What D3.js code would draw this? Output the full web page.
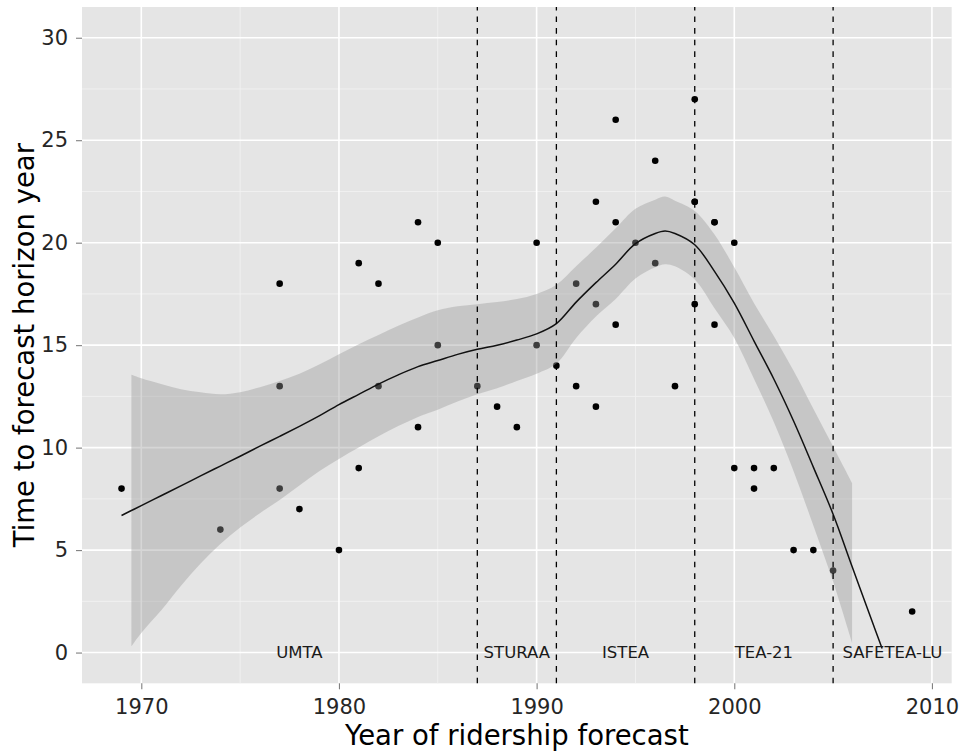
<!DOCTYPE html>
<html>
<head>
<meta charset="utf-8">
<script src="https://cdn.jsdelivr.net/npm/d3@7"></script>
<style>
  html, body { margin: 0; padding: 0; background: #ffffff; }
  svg { display: block; font-family: "DejaVu Sans", sans-serif; }
</style>
</head>
<body>
<svg id="chart" width="960" height="753"></svg>
<script>
// Forecast year and years until the forecast horizon, one entry per forecast
const forecastYear = [
  1969, 1974, 1977, 1977, 1977, 1978, 1980, 1981, 1981, 1982, 1982,
  1984, 1984, 1985, 1985, 1987, 1988, 1989, 1990, 1990, 1991, 1992,
  1992, 1993, 1993, 1993, 1994, 1994, 1994, 1995, 1996, 1996, 1997,
  1998, 1998, 1998, 1998, 1999, 1999, 1999, 2000, 2000, 2001, 2001,
  2002, 2003, 2004, 2005, 2009
];
const horizonYears = [
  8, 6, 18, 13, 8, 7, 5, 19, 9, 18, 13,
  21, 11, 20, 15, 13, 12, 11, 20, 15, 14, 18,
  13, 22, 17, 12, 26, 21, 16, 20, 24, 19, 13,
  27, 22, 22, 17, 21, 21, 16, 20, 9, 9, 8,
  9, 5, 5, 4, 2
];

// Loess trend with its confidence band (null where the band leaves the axis range)
const smoothYear = [
  1969, 1969.5, 1970, 1971, 1972, 1973, 1974, 1975, 1976, 1977, 1978,
  1979, 1980, 1981, 1982, 1983, 1984, 1985, 1986, 1987, 1988, 1989,
  1990, 1991, 1992, 1993, 1994, 1995, 1996, 1996.5, 1997, 1998, 1999,
  2000, 2001, 2002, 2003, 2004, 2005, 2005.96, 2007, 2007.48
];
const smoothFit = [
  6.69, 6.93, 7.17, 7.65, 8.13, 8.62, 9.10, 9.58, 10.07, 10.55, 11.04,
  11.55, 12.10, 12.60, 13.10, 13.55, 13.95, 14.25, 14.55, 14.80, 15.00, 15.25,
  15.55, 16.05, 17.10, 18.05, 18.95, 19.95, 20.45, 20.57, 20.45, 19.90, 18.60,
  17.05, 15.20, 13.35, 11.30, 9.05, 6.75, 4.20, 1.45, 0.20
];
const smoothLow = [
  null, 0.31, 0.96, 2.05, 3.25, 4.35, 5.30, 6.10, 6.80, 7.45, 8.15,
  8.85, 9.45, 10.00, 10.55, 11.05, 11.50, 11.85, 12.25, 12.60, 12.90, 13.25,
  13.60, 14.10, 15.35, 16.40, 17.25, 18.25, 18.80, 18.95, 18.85, 18.20, 16.80,
  15.35, 13.35, 11.25, 8.85, 6.20, 3.45, 0.47, null, null
];
const smoothHigh = [
  null, 13.55, 13.38, 13.10, 12.85, 12.70, 12.60, 12.70, 12.95, 13.25, 13.60,
  14.05, 14.55, 15.05, 15.50, 15.95, 16.35, 16.70, 16.90, 17.00, 17.10, 17.25,
  17.50, 17.95, 18.85, 19.75, 20.70, 21.65, 22.10, 22.25, 22.05, 21.55, 20.40,
  18.80, 17.05, 15.45, 13.75, 11.90, 10.05, 8.27, null, null
];

// Transportation acts: start years of each period and the label positions
const actBreaks = [1987, 1991, 1998, 2005];
const actNames = ["UMTA", "STURAA", "ISTEA", "TEA-21", "SAFETEA-LU"];
const actLabelYear = [1978, 1989, 1994.5, 2001.5, 2008];

const xTicks = [1970, 1980, 1990, 2000, 2010];
const xMinor = [1975, 1985, 1995, 2005];
const yTicks = [0, 5, 10, 15, 20, 25, 30];
const yMinor = [2.5, 7.5, 12.5, 17.5, 22.5, 27.5];

const xTitle = "Year of ridership forecast";
const yTitle = "Time to forecast horizon year";

// ---- layout ----
const panel = { left: 82, right: 951.7, top: 7, bottom: 683.3 };
const svg = d3.select("#chart");

const x = d3.scaleLinear().domain([1967, 2011]).range([panel.left, panel.right]);
const y = d3.scaleLinear().domain([-1.5, 31.5]).range([panel.bottom, panel.top]);

// panel background
svg.append("rect")
  .attr("x", panel.left).attr("y", panel.top)
  .attr("width", panel.right - panel.left)
  .attr("height", panel.bottom - panel.top)
  .attr("fill", "#E5E5E5");

const grid = svg.append("g");
// minor grid
grid.selectAll(".vminor").data(xMinor).join("line")
  .attr("x1", d => x(d)).attr("x2", d => x(d))
  .attr("y1", panel.top).attr("y2", panel.bottom)
  .attr("stroke", "#F2F2F2").attr("stroke-width", 0.9);
grid.selectAll(".hminor").data(yMinor).join("line")
  .attr("y1", d => y(d)).attr("y2", d => y(d))
  .attr("x1", panel.left).attr("x2", panel.right)
  .attr("stroke", "#F2F2F2").attr("stroke-width", 0.9);
// major grid
grid.selectAll(".vmajor").data(xTicks).join("line")
  .attr("x1", d => x(d)).attr("x2", d => x(d))
  .attr("y1", panel.top).attr("y2", panel.bottom)
  .attr("stroke", "#FFFFFF").attr("stroke-width", 1.6);
grid.selectAll(".hmajor").data(yTicks).join("line")
  .attr("y1", d => y(d)).attr("y2", d => y(d))
  .attr("x1", panel.left).attr("x2", panel.right)
  .attr("stroke", "#FFFFFF").attr("stroke-width", 1.6);

// points
const points = forecastYear.map((yr, i) => ({ yr, h: horizonYears[i] }));
svg.append("g").selectAll("circle").data(points).join("circle")
  .attr("cx", d => x(d.yr))
  .attr("cy", d => y(d.h))
  .attr("r", 3.3)
  .attr("fill", "#000000");

// smooth band and trend line
const smooth = smoothYear.map((yr, i) => ({
  yr, fit: smoothFit[i], lo: smoothLow[i], hi: smoothHigh[i]
}));

const band = d3.area()
  .defined(d => d.lo !== null && d.hi !== null)
  .x(d => x(d.yr))
  .y0(d => y(d.lo))
  .y1(d => y(d.hi))
  .curve(d3.curveCatmullRom.alpha(0.5));

svg.append("path")
  .datum(smooth)
  .attr("d", band)
  .attr("fill", "#999999")
  .attr("fill-opacity", 0.4);

const trend = d3.line()
  .x(d => x(d.yr))
  .y(d => y(d.fit))
  .curve(d3.curveCatmullRom.alpha(0.5));

svg.append("path")
  .datum(smooth)
  .attr("d", trend)
  .attr("fill", "none")
  .attr("stroke", "#111111")
  .attr("stroke-width", 1.5);

// period boundaries
svg.append("g").selectAll("line").data(actBreaks).join("line")
  .attr("x1", d => x(d)).attr("x2", d => x(d))
  .attr("y1", panel.bottom).attr("y2", panel.top)
  .attr("stroke", "#000000")
  .attr("stroke-width", 1.3)
  .attr("stroke-dasharray", "5.6,6");

// period labels
svg.append("g").selectAll("text").data(actNames).join("text")
  .attr("x", (d, i) => x(actLabelYear[i]))
  .attr("y", y(0))
  .attr("dy", "0.36em")
  .attr("text-anchor", "middle")
  .attr("font-size", 16.5)
  .attr("fill", "#1a1a1a")
  .text(d => d);

// axes
const xAxis = svg.append("g")
  .attr("transform", `translate(0,${panel.bottom})`)
  .call(d3.axisBottom(x).tickValues(xTicks).tickFormat(d3.format("d"))
    .tickSize(6).tickPadding(9.3));
const yAxis = svg.append("g")
  .attr("transform", `translate(${panel.left},0)`)
  .call(d3.axisLeft(y).tickValues(yTicks).tickFormat(d3.format("d"))
    .tickSize(6).tickPadding(8));

[xAxis, yAxis].forEach(ax => {
  ax.select(".domain").remove();
  ax.selectAll(".tick line").attr("stroke", "#7F7F7F").attr("stroke-width", 1.1);
  ax.selectAll(".tick text")
    .attr("font-family", "DejaVu Sans, sans-serif")
    .attr("font-size", 21)
    .attr("fill", "#262626");
});

// axis titles
svg.append("text")
  .attr("x", (panel.left + panel.right) / 2)
  .attr("y", 745)
  .attr("text-anchor", "middle")
  .attr("font-size", 27.5)
  .attr("fill", "#000000")
  .text(xTitle);

svg.append("text")
  .attr("transform", `translate(34,${(panel.top + panel.bottom) / 2}) rotate(-90)`)
  .attr("text-anchor", "middle")
  .attr("font-size", 27.5)
  .attr("fill", "#000000")
  .text(yTitle);
</script>
</body>
</html>
